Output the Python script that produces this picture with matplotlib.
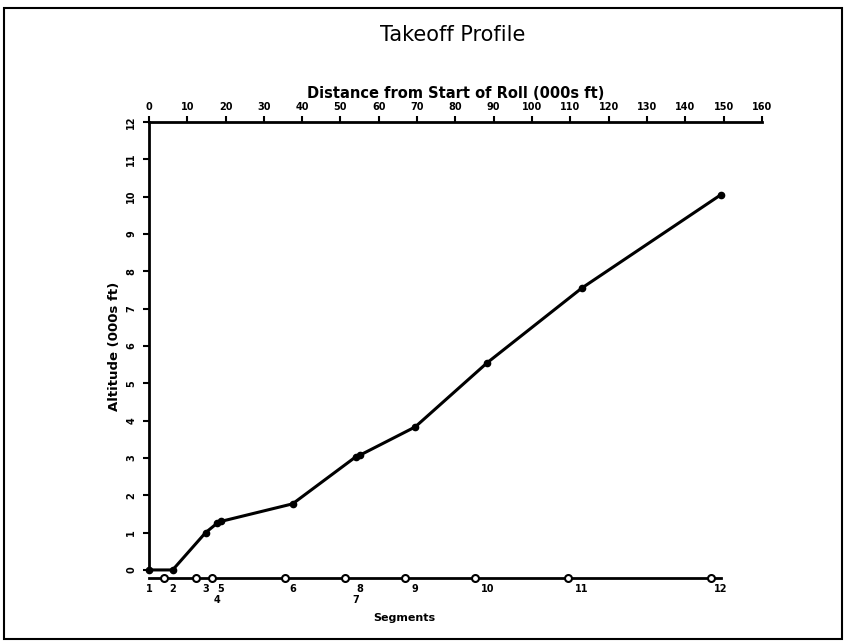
import numpy as np
import matplotlib
matplotlib.use('Agg')
import matplotlib.pyplot as plt
from matplotlib.patches import Rectangle

# takeoff profile, distance (000s ft) vs altitude (000s ft) at each segment end
seg_dist = [0, 6.2, 14.8, 17.8, 18.8, 37.5, 54.0, 55.0, 69.5, 88.3, 113.0, 149.3]
altitude = [0, 0, 1.0, 1.25, 1.3, 1.77, 3.03, 3.07, 3.83, 5.55, 7.55, 10.05]
seg_labels = ['1', '2', '3', '4', '5', '6', '7', '8', '9', '10', '11', '12']
lower_row = ['4', '7']
arrow_pos = [3.9, 12.3, 16.4, 35.6, 51.2, 66.9, 85.2, 109.5, 146.7]

dist_ticks = np.arange(0, 170, 10)
alt_ticks = np.arange(0, 13, 1)

fig = plt.figure(figsize=(8.46, 6.44), dpi=100)
ax = fig.add_axes([0.176, 0.115, 0.7246, 0.6957])

ax.plot(seg_dist, altitude, color='black', linewidth=2.2, marker='o',
        markersize=4.5, clip_on=False, zorder=5)

# segment strip under the plot
yseg = -0.22
ax.plot([seg_dist[0], seg_dist[-1]], [yseg, yseg], color='black',
        linewidth=2, clip_on=False)
ax.plot(arrow_pos, [yseg]*len(arrow_pos), linestyle='none', marker='o',
        markersize=5, markerfacecolor='white', markeredgecolor='black',
        markeredgewidth=1.5, clip_on=False)
for d, lab in zip(seg_dist, seg_labels):
    yy = -0.8 if lab in lower_row else -0.5
    ax.text(d, yy, lab, ha='center', va='center', fontsize=7,
            fontweight='bold', clip_on=False)
ax.text(66.7, -1.3, 'Segments', ha='center', va='center', fontsize=8,
        fontweight='bold', clip_on=False)

ax.set_xlim(0, 160)
ax.set_ylim(0, 12)
ax.xaxis.set_ticks_position('top')
ax.xaxis.set_label_position('top')
ax.set_xticks(dist_ticks)
ax.set_yticks(alt_ticks)
ax.tick_params(axis='both', direction='out', length=4, width=1.5,
               labelsize=7, pad=3)
ax.tick_params(axis='y', labelrotation=90, pad=5)
for tick in ax.get_xticklabels() + ax.get_yticklabels():
    tick.set_fontweight('bold')
for tick in ax.get_yticklabels():
    tick.set_va('center')

ax.set_xlabel('Distance from Start of Roll (000s ft)', fontsize=10.5,
              fontweight='bold', labelpad=3)
ax.set_ylabel('Altitude (000s ft)', fontsize=9.5, fontweight='bold',
              labelpad=4)

for x in ['right', 'bottom']:
    ax.spines[x].set_visible(False)
for x in ['top', 'left']:
    ax.spines[x].set_linewidth(2)

fig.text(0.535, 0.945, 'Takeoff Profile', ha='center', va='center',
         fontsize=15)
fig.patches.append(Rectangle((0.005, 0.008), 0.99, 0.98, fill=False,
                             edgecolor='black', linewidth=1.5,
                             transform=fig.transFigure))

fig.savefig('out.png', dpi=100)
